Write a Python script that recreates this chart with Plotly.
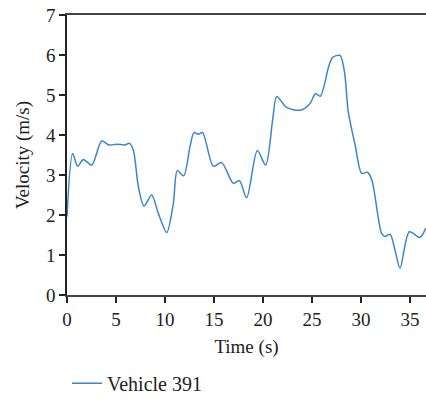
import plotly.graph_objects as go

# Velocity profile of vehicle 391 over time
time_s = [0.0, 0.58, 1.09, 1.67, 2.52, 3.54, 4.3, 5.07, 5.9, 6.36, 6.77, 7.28, 7.86,
          8.64, 9.32, 10.17, 10.85, 11.26, 11.9, 12.55, 12.96, 13.4, 13.84, 14.93,
          15.78, 16.97, 17.59, 18.33, 19.42, 20.27, 20.98, 21.4, 22.4, 23.8, 24.8,
          25.35, 25.85, 26.7, 27.1, 27.85, 28.3, 28.7, 29.4, 30.07, 30.64, 31.1,
          32.1, 32.45, 32.96, 33.47, 33.98, 34.93, 36.0, 36.6]
velocity = [1.96, 3.54, 3.22, 3.39, 3.25, 3.85, 3.75, 3.77, 3.75, 3.79, 3.62, 2.71, 2.22,
            2.5, 2.04, 1.56, 2.29, 3.11, 2.98, 3.71, 4.06, 4.02, 4.06, 3.22,
            3.31, 2.79, 2.86, 2.43, 3.61, 3.25, 4.37, 4.96, 4.69, 4.62, 4.79,
            5.03, 4.97, 5.71, 5.94, 5.99, 5.6, 4.58, 3.75, 3.04, 3.07, 2.88,
            1.54, 1.46, 1.52, 1.12, 0.67, 1.58, 1.44, 1.67]

x_ticks = [0, 5, 10, 15, 20, 25, 30, 35]
y_ticks = [0, 1, 2, 3, 4, 5, 6, 7]

serif = "Liberation Serif"
fsize = 19

fig = go.Figure()
fig.add_trace(go.Scatter(
    x=time_s, y=velocity, mode="lines", name="Vehicle 391",
    line=dict(color="#3b86c8", width=1.5, shape="spline", smoothing=0.8),
))

fig.update_layout(
    width=426, height=400,
    margin=dict(l=67, r=0, t=15, b=105, autoexpand=False),
    paper_bgcolor="white", plot_bgcolor="white",
    font=dict(family=serif, size=fsize, color="#222"),
    showlegend=True,
    legend=dict(orientation="h", x=0.0, xanchor="left", y=-0.315, yanchor="middle",
                font=dict(family=serif, size=fsize + 1, color="#222"),
                bgcolor="rgba(0,0,0,0)"),
    xaxis=dict(
        range=[0, 36.63], tickvals=x_ticks, showgrid=False, zeroline=False,
        showline=True, linecolor="#444", linewidth=1.5, mirror=True,
        ticks="outside", ticklen=6, tickcolor="#222", tickwidth=1.5,
        automargin=False,
        tickfont=dict(family=serif, size=fsize),
        title=dict(text="Time (s)", standoff=11, font=dict(family=serif, size=fsize)),
    ),
    yaxis=dict(
        range=[0, 7], tickvals=y_ticks, showgrid=False, zeroline=False,
        showline=True, linecolor="#222", linewidth=1.5,
        ticks="outside", ticklen=6, tickcolor="#222", tickwidth=1.5,
        automargin=False,
        tickfont=dict(family=serif, size=fsize),
        title=dict(text="Velocity (m/s)", standoff=11, font=dict(family=serif, size=fsize)),
    ),
)

fig.write_html("out.html")
